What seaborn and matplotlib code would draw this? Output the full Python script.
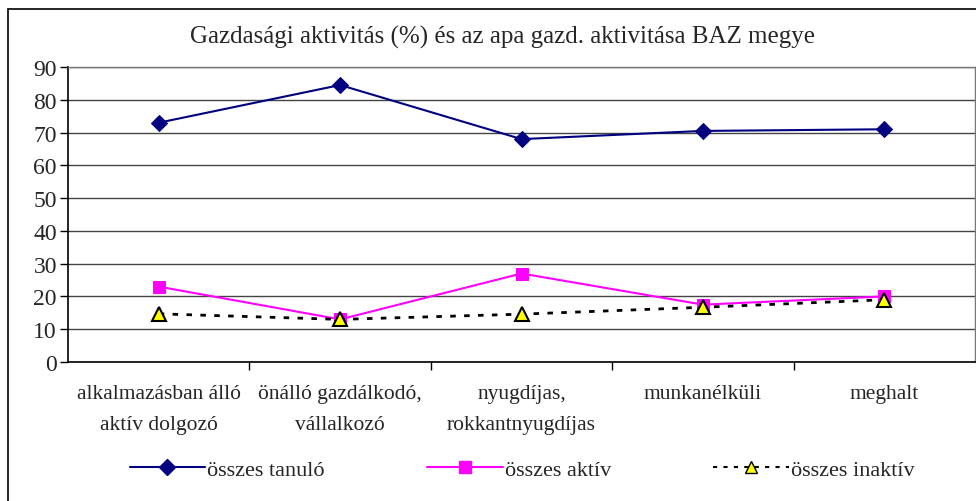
import numpy as np
import pandas as pd
import seaborn as sns
from matplotlib import pyplot as plt
from matplotlib.patches import Rectangle
from matplotlib.lines import Line2D

categories = [
    "alkalmazásban álló\naktív dolgozó",
    "önálló gazdálkodó,\nvállalkozó",
    "nyugdíjas,\nrokkantnyugdíjas",
    "munkanélküli",
    "meghalt",
]
tanulo = [73, 84.5, 68, 70.5, 71]
aktiv = [23, 13, 27, 17.5, 20]
inaktiv = [14.7, 13, 14.6, 16.7, 19]

sns.set_theme(style="white")
plt.rcParams["font.family"] = ["Liberation Serif", "DejaVu Serif"]

fig = plt.figure(figsize=(9.76, 5.02), dpi=100)
ax = fig.add_axes([68 / 976, 139 / 502, 907 / 976, 295 / 502])

x = np.arange(len(categories))
df = pd.DataFrame({"x": x, "tanulo": tanulo, "aktiv": aktiv, "inaktiv": inaktiv})

sns.lineplot(data=df, x="x", y="tanulo", ax=ax, color="#000080", lw=1.5,
             marker="D", markersize=8, markeredgecolor="#000080", markerfacecolor="#000080")
sns.lineplot(data=df, x="x", y="aktiv", ax=ax, color="#FF00FF", lw=1.5,
             marker="s", markersize=8, markeredgecolor="#FF00FF", markerfacecolor="#FF00FF")
sns.lineplot(data=df, x="x", y="inaktiv", ax=ax, color="black", lw=2,
             linestyle=(0, (2, 3)), marker="^", markersize=10,
             markeredgecolor="black", markerfacecolor="yellow", markeredgewidth=1.5)

ax.set_xlim(-0.5, len(categories) - 0.5)
ax.set_ylim(0, 90)
ax.set_yticks(range(0, 91, 10))
ax.yaxis.grid(True, color="#444444", lw=1)
ax.set_xticks(x)
ax.set_xticklabels(categories, fontsize=15.5, linespacing=1.85)
ax.set_xticks(np.arange(0.5, len(categories) - 1, 1), minor=True)
ax.tick_params(axis="x", which="major", length=0, pad=16)
ax.tick_params(axis="x", which="minor", length=6, width=1, color="black", bottom=True)
ax.tick_params(axis="y", length=6, width=1, color="black", left=True, labelsize=17, pad=2)
ax.set_xlabel("")
ax.set_ylabel("")
for s in ["left", "bottom"]:
    ax.spines[s].set_color("black")
    ax.spines[s].set_linewidth(1.2)
for s in ["top", "right"]:
    ax.spines[s].set_color("#777777")
    ax.spines[s].set_linewidth(1)

fig.text(0.515, 0.925, "Gazdasági aktivitás (%) és az apa gazd. aktivitása BAZ megye",
         ha="center", va="center", fontsize=18)

handles = [
    Line2D([], [], color="#000080", lw=1.5, marker="D", markersize=8),
    Line2D([], [], color="#FF00FF", lw=1.5, marker="s", markersize=8),
    Line2D([], [], color="black", lw=1.5, linestyle=(0, (2, 3)), marker="^",
           markersize=8, markerfacecolor="yellow", markeredgecolor="black"),
]
fig.legend(handles, ["összes tanuló", "összes aktív", "összes inaktív"],
           loc="center", bbox_to_anchor=(0.535, 0.063), ncol=3, frameon=False,
           fontsize=16, handlelength=3.4, handletextpad=0.1, columnspacing=4.6)

fig.patches.append(Rectangle((8 / 976, -0.01), 1, 1 - 10 / 502 + 0.01,
                             transform=fig.transFigure, fill=False,
                             edgecolor="black", lw=1.2))

fig.savefig("out.png", dpi=100)
